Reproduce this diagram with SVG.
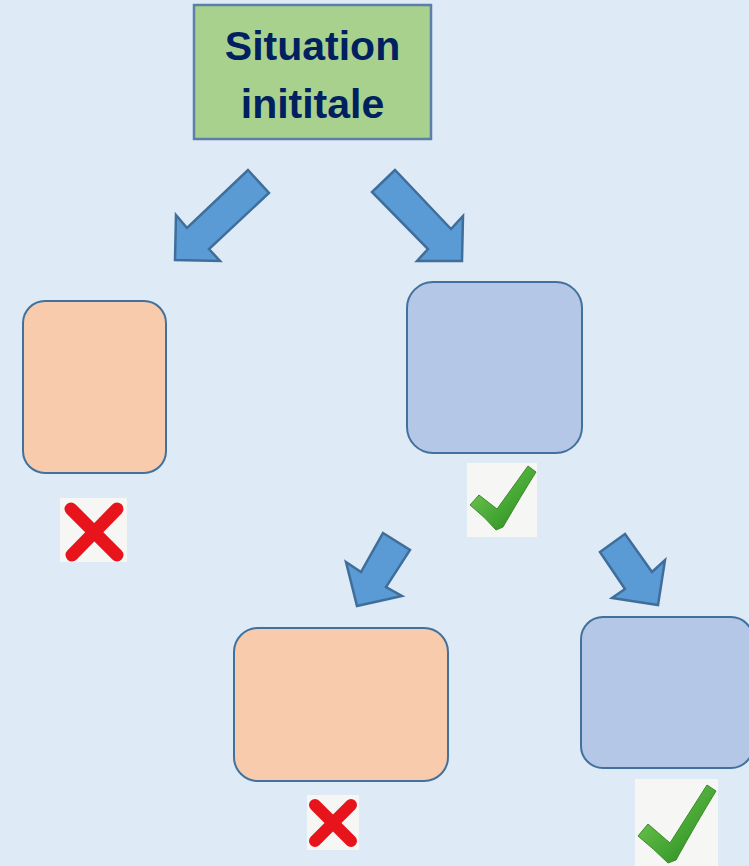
<svg xmlns="http://www.w3.org/2000/svg" width="749" height="866" viewBox="0 0 749 866">
<defs>
<style>
.arrow{fill:#5B9BD5;stroke:#3F6E9A;stroke-width:2.5;stroke-linejoin:miter}
.box{stroke:#41719C;stroke-width:2}
.orange{fill:#F8CBAD}
.blue{fill:#B4C7E7}
.tile{fill:#F6F7F5}
.xmark{stroke:#E8141B;stroke-linecap:round}
.check{fill:url(#cg);stroke:#3E8A2A;stroke-width:1}
.title{font-family:"Liberation Sans",Arial,sans-serif;font-weight:bold;font-size:41px;fill:#002060;text-anchor:middle}
</style>
<linearGradient id="cg" x1="0" y1="0" x2="1" y2="1">
<stop offset="0" stop-color="#7FD05A"/>
<stop offset="0.6" stop-color="#43A533"/>
<stop offset="1" stop-color="#2E7D22"/>
</linearGradient>
</defs>
<rect x="0" y="0" width="749" height="866" fill="#DEEAF6"/>

<g id="connectors">
<polygon class="arrow" points="248,170 269,193 209,249 220,261 175,260 176,215 187,228"/>
<polygon class="arrow" points="395,170 372,192 428,249 417,261 462,261 463,216 451,229"/>
<polygon class="arrow" points="383,533 410,550 386,587 402,596 357,606 346,562 361,572"/>
<polygon class="arrow" points="625,534 600,552 625,589 612,598 658,605 665,560 652,572"/>
</g>

<g id="start">
<rect x="194" y="5" width="237" height="134" fill="#A9D18E" stroke="#5B7FA8" stroke-width="2.5"/>
<text class="title" x="312.5" y="60">Situation</text>
<text class="title" x="312.5" y="118">inititale</text>
</g>

<g id="node-left">
<rect class="box orange" x="23" y="301" width="143" height="172" rx="22"/>
</g>
<g id="node-right">
<rect class="box blue" x="407" y="282" width="175" height="171" rx="26"/>
</g>
<g id="node-bottom-left">
<rect class="box orange" x="234" y="628" width="214" height="153" rx="24"/>
</g>
<g id="node-bottom-right">
<rect class="box blue" x="581" y="617" width="172" height="151" rx="22"/>
</g>

<g id="x-left">
<rect class="tile" x="60" y="498" width="67" height="64" fill="#F7F7F7"/>
<line class="xmark" x1="71" y1="509" x2="117" y2="555" stroke-width="13"/>
<line class="xmark" x1="117" y1="509" x2="72" y2="555" stroke-width="13"/>
</g>
<g id="check-top">
<rect class="tile" x="467" y="463" width="70" height="74"/>
<path class="check" d="M470,505 L479,495 L497,509 L528,466 L536,472 Q521,496 503,527 L496,530 Q485,517 470,505 Z"/>
</g>
<g id="x-bottom">
<rect class="tile" x="307" y="795" width="52" height="55" fill="#F7F7F7"/>
<line class="xmark" x1="315" y1="805" x2="351" y2="841" stroke-width="12"/>
<line class="xmark" x1="351" y1="805" x2="315" y2="841" stroke-width="12"/>
</g>
<g id="check-bottom">
<rect class="tile" x="635" y="779" width="83" height="87"/>
<path class="check" d="M638,836 L648,824 L670,843 L707,785 L716,791 Q697,822 676,860 L668,863 Q654,849 638,836 Z"/>
</g>
</svg>
